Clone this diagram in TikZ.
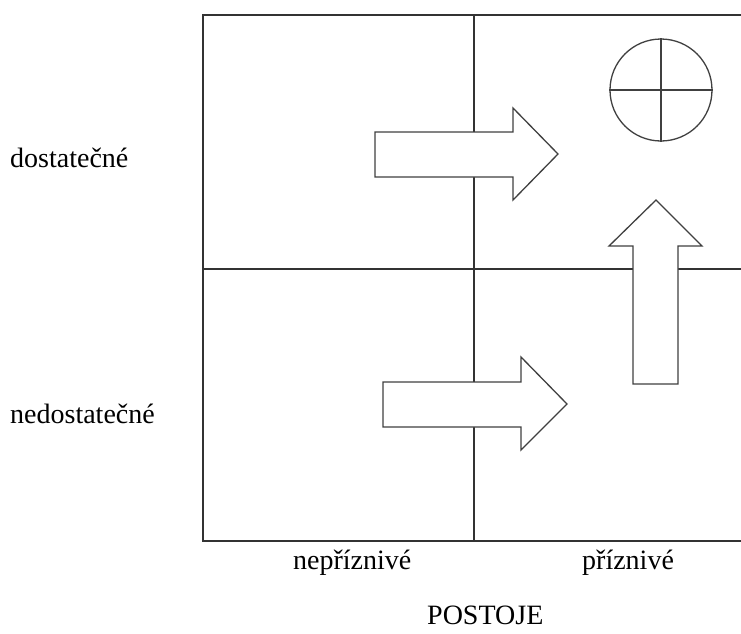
\documentclass[tikz,border=0pt]{standalone}
\usepackage{fontspec}
\setmainfont{Liberation Serif}
\begin{document}
\begin{tikzpicture}[x=1pt,y=-1pt,
  gridline/.style={draw=black!80, line width=1.5pt},
  arrowshape/.style={draw=black!75, line width=1.3pt, fill=white, line join=miter},
  lbl/.style={inner sep=0pt, anchor=base west, font=\fontsize{28}{34}\selectfont}]
\useasboundingbox (0,0) rectangle (741,633);
% grid
\draw[gridline] (741,15) -- (203,15) -- (203,541) -- (741,541);
\draw[gridline] (474,15) -- (474,541);
\draw[gridline] (203,269) -- (741,269);
% upper right arrow
\draw[arrowshape] (375,132) -- (513,132) -- (513,108) -- (558,154) -- (513,200) -- (513,177) -- (375,177) -- cycle;
% lower right arrow
\draw[arrowshape] (383,382) -- (521,382) -- (521,357) -- (567,404) -- (521,450) -- (521,427) -- (383,427) -- cycle;
% up arrow
\draw[arrowshape] (633,384) -- (633,246) -- (609,246) -- (656,200) -- (702,246) -- (678,246) -- (678,384) -- cycle;
% circle with cross
\node[draw=black!75, line width=1.3pt, circle, minimum size=102pt, inner sep=0pt] (goal) at (661,90) {};
\draw[draw=black!75, line width=1.3pt] (goal.north) -- (goal.south);
\draw[draw=black!75, line width=1.3pt] (goal.west) -- (goal.east);
% labels
\node[lbl] (dost) at (10,167) {dostatečné};
\node[lbl] (nedost) at (10,423) {nedostatečné};
\node[lbl] (nepriz) at (293,569) {nepříznivé};
\node[lbl] (priz) at (582,569) {příznivé};
\node[lbl] (postoje) at (427,624) {POSTOJE};
\end{tikzpicture}
\end{document}
